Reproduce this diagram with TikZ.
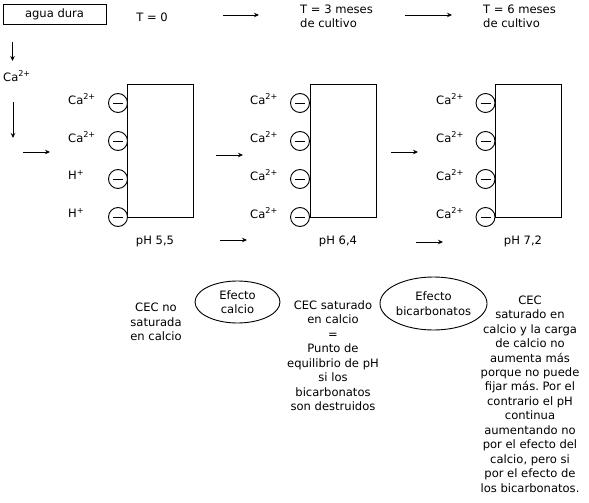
\documentclass[tikz,border=0pt]{standalone}
\usepackage{fontspec}
\setmainfont{DejaVu Sans}
\frenchspacing
\usetikzlibrary{arrows.meta,shapes.geometric}
\begin{document}
\begin{tikzpicture}[x=1bp,y=-1bp,
  every node/.style={font=\fontsize{11.6}{14.5}\selectfont, inner sep=0pt, text=black},
  arr/.style={draw=black, line width=0.9bp, -{Stealth[length=5bp,width=4.5bp]}},
  neg/.style={circle, draw=black, line width=0.9bp, minimum size=19bp, fill=white,
    path picture={\draw[line width=0.9bp] ([xshift=-5bp]path picture bounding box.center) -- ([xshift=5bp]path picture bounding box.center);}},
  panel/.style={draw=black, line width=0.9bp, minimum width=66bp, minimum height=133bp},
  ion/.style={anchor=west},
  eff/.style={ellipse, draw=black, line width=0.9bp, align=center}
]
\useasboundingbox (0,0) rectangle (589,503);
% header
\node[draw=black, line width=0.9bp, minimum width=103bp, minimum height=20bp] (agua) at (54.5,14) {agua dura};
\node (t0) at (152,17) {T = 0};
\node[anchor=west, align=left] (t3) at (300,16.5) {T = 3 meses\\de cultivo};
\node[anchor=west, align=left] (t6) at (483,16.5) {T = 6 meses\\de cultivo};
\coordinate (a1s) at (223,15); \coordinate (a1e) at (259,15);
\coordinate (a2s) at (405,15); \coordinate (a2e) at (452,15);
\draw[arr] (a1s) -- (a1e);
\draw[arr] (a2s) -- (a2e);
% left side
\coordinate (d1s) at (12.5,42); \coordinate (d1e) at (12.5,61);
\draw[arr] (d1s) -- (d1e);
\node[anchor=west] (caL) at (3,76) {Ca\textsuperscript{2+}};
\coordinate (d2s) at (13,102); \coordinate (d2e) at (13,138);
\draw[arr] (d2s) -- (d2e);
\coordinate (h1s) at (23,152); \coordinate (h1e) at (50,152);
\draw[arr] (h1s) -- (h1e);
% panel 1
\node[panel] (p1) at (160,150.5) {};
\foreach \i/\y in {1/103,2/141,3/179,4/217} {\node[neg] (p1c\i) at (118,\y) {};}
\node[ion] (p1l1) at (68,99) {Ca\textsuperscript{2+}};
\node[ion] (p1l2) at (68,137) {Ca\textsuperscript{2+}};
\node[ion] (p1l3) at (68,175) {H\textsuperscript{+}};
\node[ion] (p1l4) at (68,213) {H\textsuperscript{+}};
\node (ph1) at (155,241) {pH 5,5};
% panel 2
\node[panel] (p2) at (343,150.5) {};
\foreach \i/\y in {1/103,2/141,3/179,4/217} {\node[neg] (p2c\i) at (300,\y) {};}
\foreach \i/\y in {1/99,2/137,3/175,4/213} {\node[ion] (p2l\i) at (250,\y) {Ca\textsuperscript{2+}};}
\node (ph2) at (338,241) {pH 6,4};
% panel 3
\node[panel] (p3) at (528.5,150.5) {};
\foreach \i/\y in {1/103,2/141,3/179,4/217} {\node[neg] (p3c\i) at (485.5,\y) {};}
\foreach \i/\y in {1/99,2/137,3/175,4/213} {\node[ion] (p3l\i) at (436,\y) {Ca\textsuperscript{2+}};}
\node (ph3) at (523,241) {pH 7,2};
% arrows between panels
\coordinate (m1s) at (216,155); \coordinate (m1e) at (243,155);
\coordinate (b1s) at (220,240); \coordinate (b1e) at (247,240);
\coordinate (m2s) at (391,152); \coordinate (m2e) at (418,152);
\coordinate (b2s) at (416,242); \coordinate (b2e) at (443,242);
\draw[arr] (m1s) -- (m1e);
\draw[arr] (b1s) -- (b1e);
\draw[arr] (m2s) -- (m2e);
\draw[arr] (b2s) -- (b2e);
% effects
\node[eff, minimum width=85bp, minimum height=42bp] (ecal) at (237.5,302) {Efecto\\calcio};
\node[eff, minimum width=107bp, minimum height=53bp] (ebic) at (433.5,303.5) {Efecto\\bicarbonatos};
% descriptions
\node[anchor=north, align=center] (cec1) at (156,303) {CEC no\\saturada\\en calcio};
\node[anchor=north, align=center] (cec2) at (333,300.5) {CEC saturado\\en calcio\\=\\Punto de\\equilibrio de pH\\si los\\bicarbonatos\\son destruidos};
\node[anchor=north, align=center] (cec3) at (530,295.5) {CEC\\saturado en\\calcio y la carga\\de calcio no\\aumenta más\\porque no puede\\fijar más. Por el\\contrario el pH\\continua\\aumentando no\\por el efecto del\\calcio, pero si\\por el efecto de\\los bicarbonatos.};
\end{tikzpicture}
\end{document}
